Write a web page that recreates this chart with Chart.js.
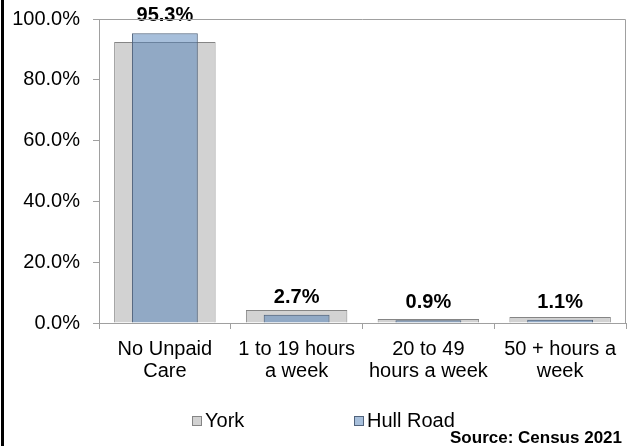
<!DOCTYPE html>
<html>
<head>
<meta charset="utf-8">
<script src="https://cdn.jsdelivr.net/npm/chart.js@4.4.0/dist/chart.umd.min.js"></script>
<style>
  html,body{margin:0;padding:0;background:#fff;}
  #wrap{width:627px;height:446px;}
</style>
</head>
<body>
<div id="wrap"><canvas id="careChart" width="627" height="446"></canvas></div>
<script>
let categories=[['No Unpaid','Care'],['1 to 19 hours','a week'],['20 to 49','hours a week'],['50 + hours a','week']]
let york=[92.4,4.3,1.3,2.0]
let hullRoad=[95.3,2.7,0.9,1.1]
let yTicks=[0,20,40,60,80,100]
let sourceNote='Source: Census 2021'

Chart.defaults.font.family='"Liberation Sans", Arial, sans-serif'
Chart.defaults.font.size=20
Chart.defaults.color='#000'

// left black frame line + plot area top/right border
let framePlugin={
  id:'frame',
  afterDraw(chart){
    let c=chart.ctx, a=chart.chartArea
    c.save()
    c.fillStyle='#000'
    c.fillRect(1,0,3,chart.height)
    c.strokeStyle='#a0a0a0'
    c.lineWidth=1
    c.beginPath()
    c.moveTo(a.left,a.top+0.5)
    c.lineTo(a.right-0.5,a.top+0.5)
    c.lineTo(a.right-0.5,a.bottom)
    c.stroke()
    c.restore()
  }
}

// value labels above the Hull Road bars
let valuePlugin={
  id:'values',
  afterDatasetsDraw(chart){
    let c=chart.ctx
    let meta=chart.getDatasetMeta(1)
    c.save()
    c.font='bold 20px "Liberation Sans", Arial, sans-serif'
    c.fillStyle='#000'
    c.textAlign='center'
    c.textBaseline='alphabetic'
    meta.data.forEach((bar,i)=>{
      c.fillText(hullRoad[i].toFixed(1)+'%',bar.x,bar.y-12)
    })
    c.restore()
  }
}

// legend and source note at the bottom
let legendPlugin={
  id:'legendBottom',
  afterDraw(chart){
    let c=chart.ctx
    let xs=[192,354]
    c.save()
    c.font='20px "Liberation Sans", Arial, sans-serif'
    c.textBaseline='middle'
    c.textAlign='left'
    chart.data.datasets.forEach((ds,i)=>{
      c.fillStyle='#fff'
      c.fillRect(xs[i]+0.5,416.5,9,9)
      c.fillStyle=ds.backgroundColor
      c.fillRect(xs[i]+0.5,416.5,9,9)
      c.strokeStyle=ds.borderColor
      c.lineWidth=1
      c.strokeRect(xs[i]+0.5,416.5,9,9)
      c.fillStyle='#000'
      c.fillText(ds.label,xs[i]+13,421)
    })
    c.font='bold 17px "Liberation Sans", Arial, sans-serif'
    c.textAlign='right'
    c.fillText(sourceNote,622,438)
    c.restore()
  }
}

let chart=new Chart(document.getElementById('careChart'),{
  type:'bar',
  data:{
    labels:categories,
    datasets:[
      {
        label:'York',
        data:york,
        backgroundColor:'#d2d2d2',
        borderColor:'#858585',
        borderWidth:1,
        barPercentage:0.77,
        categoryPercentage:1,
        order:1
      },
      {
        label:'Hull Road',
        data:hullRoad,
        backgroundColor:'rgba(79,127,183,0.5)',
        borderColor:'#51637c',
        borderWidth:1,
        barPercentage:0.5,
        categoryPercentage:1,
        order:0
      }
    ]
  },
  options:{
    responsive:false,
    animation:false,
    layout:{padding:{top:19,right:1,bottom:0,left:0}},
    plugins:{legend:{display:false},tooltip:{enabled:false},title:{display:false}},
    datasets:{bar:{grouped:false}},
    scales:{
      x:{
        offset:true,
        grid:{offset:true,drawOnChartArea:false,drawTicks:true,tickLength:6,color:'#a0a0a0'},
        border:{display:true,color:'#a0a0a0'},
        ticks:{padding:9,maxRotation:0,font:{size:20,lineHeight:1.1}},
        afterFit(s){s.height=123;s.paddingLeft=0;s.paddingRight=0}
      },
      y:{
        min:0,max:100,
        afterBuildTicks(s){s.ticks=yTicks.map(v=>({value:v}))},
        grid:{drawOnChartArea:false,drawTicks:true,tickLength:6,color:'#a0a0a0'},
        border:{display:true,color:'#a0a0a0'},
        ticks:{padding:13,callback:v=>v.toFixed(1)+'%'},
        afterFit(s){s.width=99;s.paddingTop=0;s.paddingBottom=0}
      }
    }
  },
  plugins:[framePlugin,valuePlugin,legendPlugin]
})
</script>
</body>
</html>
